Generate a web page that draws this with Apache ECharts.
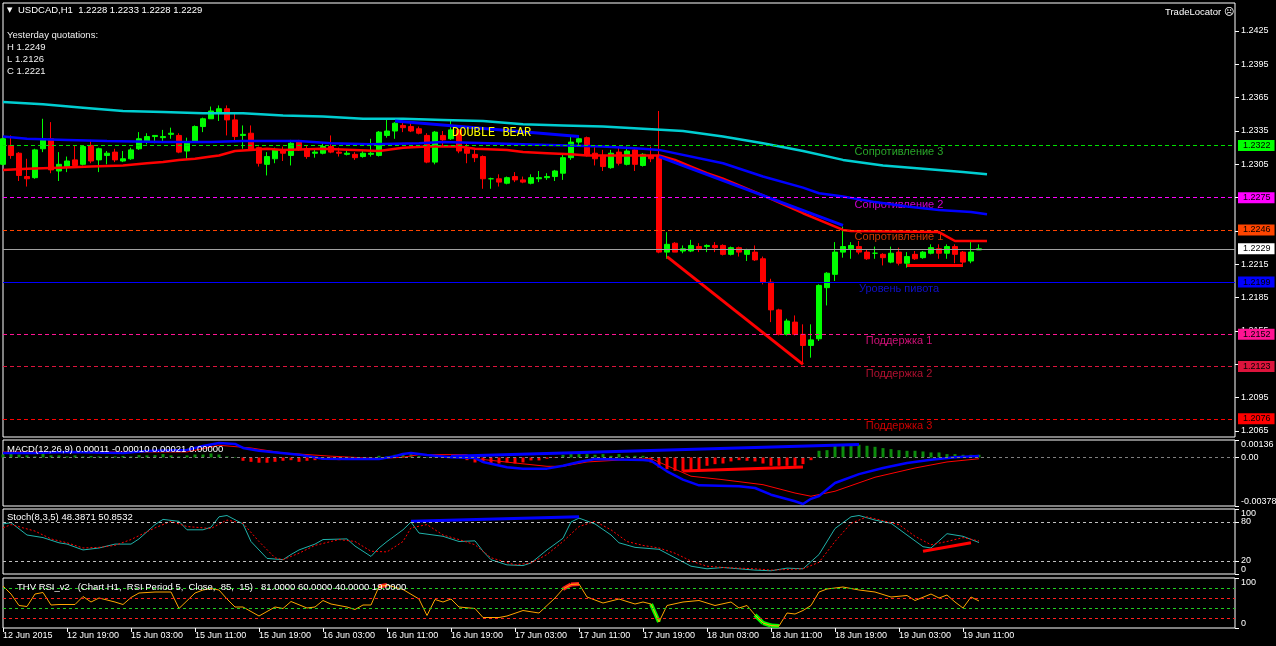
<!DOCTYPE html>
<html><head><meta charset="utf-8">
<script src="https://cdn.jsdelivr.net/npm/echarts@6/dist/echarts.min.js"></script>
<style>html,body{margin:0;padding:0;background:#000;}#c{width:1276px;height:646px;}</style>
</head><body><div id="c"></div>
<script>
const FONT = '"Liberation Sans", Arial, sans-serif';
// ---------- axis data ----------
const barCount = 155;              // 123 bars + empty space to the right
const xTickStep = 8;
const xTickLabels = ['12 Jun 2015','12 Jun 19:00','15 Jun 03:00','15 Jun 11:00','15 Jun 19:00','16 Jun 03:00','16 Jun 11:00','16 Jun 19:00','17 Jun 03:00','17 Jun 11:00','17 Jun 19:00','18 Jun 03:00','18 Jun 11:00','18 Jun 19:00','19 Jun 03:00','19 Jun 11:00'];
const priceTicks = [1.2065,1.2095,1.2125,1.2155,1.2185,1.2215,1.2245,1.2275,1.2305,1.2335,1.2365,1.2395,1.2425];
const macdTicks = [-0.00378, 0, 0.00136];
const stochEdgeTicks = [0, 100];
const stochLevelTicks = [20, 80];
const rsiTicks = [0, 100];

// ---------- candles (USDCAD H1) ----------
const opens = [1.2305,1.2322,1.2315,1.2294,1.2293,1.2319,1.2328,1.2299,1.2303,1.2309,1.2305,1.2322,1.2309,1.2313,1.2316,1.2308,1.2310,1.2319,1.2326,1.2330,1.2329,1.2332,1.2331,1.2317,1.2325,1.2339,1.2346,1.2351,1.2355,1.2345,1.2331,1.2333,1.2320,1.2305,1.2310,1.2318,1.2313,1.2325,1.2319,1.2315,1.2315,1.2321,1.2316,1.2314,1.2314,1.2312,1.2314,1.2313,1.2331,1.2335,1.2340,1.2339,1.2337,1.2331,1.2307,1.2331,1.2328,1.2336,1.2319,1.2314,1.2312,1.2292,1.2292,1.2288,1.2294,1.2291,1.2288,1.2292,1.2293,1.2294,1.2297,1.2311,1.2325,1.2329,1.2315,1.2313,1.2302,1.2316,1.2305,1.2318,1.2304,1.2313,1.2313,1.2226,1.2234,1.2227,1.2227,1.2231,1.2231,1.2232,1.2232,1.2224,1.2230,1.2224,1.2226,1.2220,1.2199,1.2174,1.2152,1.2163,1.2152,1.2142,1.2148,1.2194,1.2206,1.2226,1.2229,1.2231,1.2226,1.2225,1.2224,1.2217,1.2226,1.2216,1.2224,1.2221,1.2225,1.2229,1.2225,1.2231,1.2226,1.2218,1.2228];
const highs = [1.2329,1.2331,1.2316,1.2310,1.2319,1.2346,1.2343,1.2316,1.2312,1.2322,1.2322,1.2327,1.2320,1.2317,1.2319,1.2317,1.2320,1.2334,1.2333,1.2331,1.2336,1.2338,1.2333,1.2329,1.2340,1.2347,1.2357,1.2358,1.2358,1.2351,1.2340,1.2340,1.2321,1.2316,1.2320,1.2321,1.2327,1.2327,1.2322,1.2318,1.2325,1.2331,1.2320,1.2318,1.2316,1.2318,1.2328,1.2335,1.2345,1.2343,1.2343,1.2342,1.2339,1.2333,1.2335,1.2335,1.2344,1.2337,1.2324,1.2318,1.2313,1.2293,1.2296,1.2294,1.2298,1.2294,1.2296,1.2299,1.2297,1.2300,1.2314,1.2331,1.2331,1.2330,1.2321,1.2318,1.2318,1.2321,1.2321,1.2319,1.2315,1.2321,1.2353,1.2244,1.2235,1.2232,1.2237,1.2234,1.2233,1.2235,1.2233,1.2231,1.2231,1.2229,1.2232,1.2222,1.2202,1.2175,1.2166,1.2169,1.2161,1.2161,1.2197,1.2208,1.2235,1.2249,1.2235,1.2236,1.2228,1.2231,1.2225,1.2231,1.2230,1.2226,1.2227,1.2227,1.2233,1.2233,1.2233,1.2233,1.2227,1.2236,1.2233];
const lows = [1.2304,1.2310,1.2290,1.2285,1.2292,1.2316,1.2297,1.2290,1.2298,1.2303,1.2304,1.2306,1.2298,1.2305,1.2307,1.2307,1.2309,1.2318,1.2323,1.2324,1.2325,1.2328,1.2315,1.2310,1.2325,1.2334,1.2346,1.2344,1.2331,1.2325,1.2319,1.2317,1.2303,1.2295,1.2306,1.2308,1.2304,1.2317,1.2310,1.2311,1.2314,1.2315,1.2312,1.2313,1.2309,1.2311,1.2312,1.2312,1.2329,1.2328,1.2334,1.2334,1.2332,1.2306,1.2305,1.2321,1.2327,1.2315,1.2306,1.2307,1.2283,1.2283,1.2285,1.2287,1.2289,1.2288,1.2287,1.2289,1.2291,1.2290,1.2291,1.2309,1.2322,1.2312,1.2304,1.2299,1.2301,1.2304,1.2304,1.2299,1.2303,1.2307,1.2225,1.2220,1.2226,1.2225,1.2226,1.2226,1.2226,1.2226,1.2223,1.2223,1.2222,1.2218,1.2218,1.2197,1.2163,1.2151,1.2151,1.2151,1.2126,1.2131,1.2146,1.2178,1.2200,1.2221,1.2220,1.2224,1.2219,1.2220,1.2214,1.2216,1.2214,1.2212,1.2219,1.2220,1.2224,1.2220,1.2220,1.2216,1.2214,1.2216,1.2228];
const closes = [1.2328,1.2313,1.2295,1.2292,1.2318,1.2328,1.2300,1.2305,1.2308,1.2304,1.2321,1.2308,1.2319,1.2315,1.2309,1.2310,1.2318,1.2328,1.2330,1.2331,1.2330,1.2333,1.2316,1.2325,1.2339,1.2346,1.2353,1.2355,1.2345,1.2330,1.2332,1.2318,1.2306,1.2312,1.2318,1.2315,1.2324,1.2318,1.2312,1.2316,1.2321,1.2316,1.2315,1.2315,1.2311,1.2315,1.2315,1.2334,1.2335,1.2342,1.2338,1.2335,1.2333,1.2307,1.2334,1.2327,1.2336,1.2317,1.2315,1.2311,1.2292,1.2292,1.2289,1.2293,1.2291,1.2289,1.2293,1.2293,1.2294,1.2299,1.2311,1.2325,1.2328,1.2313,1.2310,1.2303,1.2315,1.2306,1.2317,1.2305,1.2314,1.2310,1.2226,1.2233,1.2226,1.2229,1.2232,1.2229,1.2232,1.2230,1.2224,1.2230,1.2226,1.2228,1.2219,1.2199,1.2174,1.2152,1.2164,1.2152,1.2142,1.2147,1.2196,1.2207,1.2226,1.2231,1.2232,1.2226,1.2220,1.2225,1.2221,1.2225,1.2216,1.2222,1.2220,1.2226,1.2230,1.2225,1.2231,1.2224,1.2217,1.2226,1.2229];

// ---------- moving averages / drawn lines on price chart ([bar, price]) ----------
const maCyan = [[0,1.2361],[5,1.2359],[10,1.2356],[15,1.2353],[20,1.2352],[25,1.2351],[30,1.2351],[35,1.2349],[40,1.2348],[45,1.2346],[50,1.2346],[55,1.2345],[60,1.2344],[65,1.2341],[70,1.2340],[75,1.2339],[80,1.2337],[85,1.2335],[90,1.2330],[95,1.2324],[100,1.2317],[105,1.2309],[110,1.2304],[115,1.2301],[120,1.2298],[123,1.2296]];
const maBlue = [[0,1.2330],[3,1.2328],[8,1.2327],[13,1.2326],[20,1.2325],[26,1.2325],[30,1.2326],[37,1.2326],[41,1.2324],[46,1.2323],[52,1.2324],[55,1.2325],[65,1.2323],[75,1.2321],[80,1.2319],[82,1.2318],[90,1.2306],[95,1.2294],[100,1.2284],[102,1.2279],[105,1.2276],[109,1.2271],[113,1.2267],[117,1.2264],[121,1.2262],[123,1.2260]];
const maRed = [[0,1.2300],[3,1.2301],[7,1.2302],[11,1.2303],[15,1.2304],[18,1.2306],[20,1.2307],[22,1.2309],[24,1.2310],[26,1.2312],[27,1.2313],[28,1.2315],[29,1.2317],[31,1.2318],[33,1.2319],[35,1.2318],[40,1.2319],[47,1.2317],[50,1.2320],[53,1.2321],[57,1.2321],[59,1.2319],[63,1.2318],[65,1.2316],[68,1.2315],[71,1.2314],[73,1.2313],[77,1.2313],[82,1.2313],[84,1.2309],[86,1.2303],[88,1.2297],[90,1.2292],[95,1.2277],[100,1.2261],[105,1.2246],[106,1.2245],[117,1.2244],[118,1.2240],[119,1.2236],[123,1.2236]];
const blueTrend1 = [[49,1.2344],[72,1.2330]];
const blueTrend2 = [[82,1.2312],[105,1.2250]];
const redTrend1 = [[83,1.2222],[100,1.2125]];
const redTrend2 = [[113,1.2214],[120,1.2214]];

// ---------- pivot levels ----------
const levelNames = ['Сопротивление 3','Сопротивление 2','Сопротивление 1','Уровень пивота','Поддержка 1','Поддержка 2','Поддержка 3'];
const levelValues = [1.2322,1.2275,1.2246,1.2199,1.2152,1.2123,1.2076];
const lastPrice = 1.2229;
const levelLabelBar = 112;

// ---------- MACD(12,26,9) ----------
const macdHist = [0.00023,0.00031,0.00023,0.00016,0.00008,0.00031,0.00016,0.00016,0.00008,0.00016,0.00008,0.00012,0.00008,0.00008,0.00008,0.00012,0.00008,0.00018,0.00016,0.00018,0.00026,0.00016,0.00008,0.00016,0.00023,0.00023,0.00031,0.00023,0.00008,0.00004,-0.00026,-0.00034,-0.00041,-0.00041,-0.00034,-0.00026,-0.00021,-0.00034,-0.00026,-0.00021,-0.00016,-0.00016,-0.00021,-0.00016,-0.00010,-0.00008,-0.00004,0.00013,0.00008,0.00021,0.00034,0.00026,0.00012,0.00004,0.00008,0.00006,0.00004,-0.00004,-0.00021,-0.00039,-0.00039,-0.00047,-0.00047,-0.00039,-0.00047,-0.00039,-0.00023,-0.00023,-0.00010,-0.00004,0.00021,0.00026,0.00026,0.00026,0.00021,0.00026,0.00013,0.00026,0.00013,0.00013,0.00013,-0.00039,-0.00078,-0.00091,-0.00104,-0.00109,-0.00104,-0.00091,-0.00065,-0.00052,-0.00047,-0.00031,-0.00021,-0.00026,-0.00031,-0.00047,-0.00065,-0.00065,-0.00065,-0.00065,-0.00052,-0.00021,0.00052,0.00057,0.00091,0.00091,0.00099,0.00099,0.00091,0.00083,0.00073,0.00065,0.00057,0.00052,0.00052,0.00047,0.00039,0.00039,0.00026,0.00026,0.00021,0.00021,0.00021];
const macdMain = [[0,0.00035],[4,0.00035],[8,0.00043],[15,0.00035],[18,0.00050],[23,0.00058],[25,0.00090],[27,0.00113],[29,0.00105],[30,0.00074],[32,0.00053],[37,0.00022],[40,-0.00010],[43,-0.00012],[47,-0.00012],[49,0.00010],[50,0.00027],[51,0.00035],[53,0.00020],[56,0.00002],[59,-0.00005],[60,-0.00035],[63,-0.00076],[65,-0.00087],[68,-0.00087],[70,-0.00065],[72,-0.00035],[74,-0.00012],[80,-0.00019],[81,-0.00025],[83,-0.00108],[85,-0.00173],[87,-0.00217],[92,-0.00224],[94,-0.00238],[96,-0.00290],[99,-0.00341],[100,-0.00362],[101,-0.00322],[102,-0.00300],[104,-0.00199],[107,-0.00130],[110,-0.00082],[113,-0.00043],[116,-0.00017],[119,0.00002],[122,0.00011]];
const macdSignal = [[0,0.00043],[15,0.00043],[23,0.00043],[27,0.00095],[31,0.00074],[35,0.00035],[41,0.00010],[47,-0.00009],[50,0.00002],[52,0.00022],[58,0.00022],[59,-0.00009],[64,-0.00043],[68,-0.00069],[70,-0.00069],[73,-0.00035],[78,-0.00017],[81,-0.00009],[86,-0.00146],[90,-0.00173],[95,-0.00212],[99,-0.00277],[101,-0.00302],[104,-0.00263],[109,-0.00154],[114,-0.00082],[118,-0.00035],[122,-0.00010]];
const macdBlueTrend = [[56,0.00009],[107,0.00100]];
const macdRedTrend = [[85,-0.00105],[100,-0.00074]];

// ---------- Stoch(8,3,5) ----------
const stochMain = [[0,77],[1,79],[3,60],[5,56],[7,48],[8,46],[10,37],[12,40],[14,46],[16,46],[17,54],[19,76],[20,84],[22,81],[23,68],[25,68],[26,72],[27,88],[28,90],[30,77],[31,50],[33,24],[35,22],[36,30],[37,37],[39,46],[40,53],[43,54],[44,43],[46,27],[47,40],[48,50],[50,68],[51,80],[52,63],[55,58],[57,50],[59,51],[60,35],[61,22],[63,14],[65,13],[66,17],[68,37],[70,55],[71,80],[72,86],[74,77],[76,60],[77,48],[79,41],[80,40],[82,38],[84,25],[86,12],[88,8],[90,10],[92,8],[94,6],[96,5],[98,9],[100,8],[102,30],[104,70],[106,88],[107,90],[109,83],[111,78],[113,60],[115,42],[116,40],[118,62],[120,58],[122,48.39]];
const stochSignal = [[0,71],[1,76],[4,66],[6,54],[8,48],[10,40],[12,41],[14,44],[16,53],[19,71],[21,81],[23,73],[26,70],[28,83],[30,78],[32,50],[34,25],[35,22],[37,32],[39,44],[42,53],[44,50],[46,35],[48,34],[50,50],[51,71],[53,76],[55,60],[57,53],[59,45],[61,25],[64,14],[66,17],[68,30],[70,50],[72,73],[74,81],[76,68],[78,50],[80,44],[82,40],[84,32],[86,20],[88,12],[90,10],[92,9],[94,8],[96,6],[98,7],[100,8],[102,18],[104,50],[106,78],[108,88],[110,82],[112,76],[114,58],[116,45],[118,50],[120,56],[122,50.85]];
const stochLevels = [80, 20];
const stochBlueTrend = [[51,81],[72,88]];
const stochRedTrend = [[115,35],[121,48]];

// ---------- THV RSI (period 5) ----------
const rsi = [[0,84],[1,68],[2,45],[3,43],[4,68],[5,71],[6,46],[7,47],[9,47],[10,63],[11,52],[12,60],[14,52],[15,47],[16,61],[17,70],[19,72],[21,72],[22,39],[24,70],[25,76],[26,79],[27,76],[28,58],[29,42],[30,42],[32,24],[34,42],[35,39],[36,53],[38,40],[39,42],[40,55],[41,48],[43,42],[44,37],[45,46],[46,46],[47,83],[48,86],[50,77],[52,58],[53,25],[54,57],[55,52],[56,58],[57,42],[59,39],[60,21],[62,21],[63,24],[65,35],[67,30],[68,45],[69,60],[70,78],[71,87],[72,88],[73,62],[75,50],[77,58],[79,48],[80,52],[81,48],[82,12],[83,45],[85,52],[87,55],[89,45],[91,52],[92,40],[93,45],[94,26],[95,10],[96,5],[97,4],[98,30],[99,28],[100,35],[101,45],[102,72],[103,78],[105,82],[107,76],[109,72],[111,62],[113,65],[114,55],[116,68],[117,60],[118,66],[119,52],[120,40],[121,62],[122,54]];
const rsiLevels = [80, 60, 40, 20];
const rsiUpper = 85, rsiLower = 15;

// ---------- styles ----------
const levelLineColors = ['#00e000','#ff00ff','#ff4500','#0000ff','#ff1493','#dc143c','#ff0000'];
const levelTextColors = ['#32cd32','#ff00ff','#ff4500','#1414ff','#ff1493','#dc143c','#ff0000'];
const levelBoxColors = ['#00ff00','#ff00ff','#ff4500','#0000ff','#ff1493','#dc143c','#ff0000'];
const levelSolid = [false,false,false,true,false,false,false];
const rsiLevelColors = ['#22cc22','#ff2020','#22cc22','#ff2020'];

const cats = Array.from({length: barCount}, (_, k) => String(k));
const chart = echarts.init(document.getElementById('c'), null, {renderer: 'canvas'});

const gridBase = {show: true, borderColor: '#ffffff', borderWidth: 1, backgroundColor: '#000', containLabel: false, outerBoundsMode: 'none'};
const grids = [
  Object.assign({left: 3, top: 3, width: 1232, height: 434}, gridBase),
  Object.assign({left: 3, top: 440, width: 1232, height: 66}, gridBase),
  Object.assign({left: 3, top: 509, width: 1232, height: 65}, gridBase),
  Object.assign({left: 3, top: 578, width: 1232, height: 50}, gridBase)
];
const tickShown = (idx) => idx % xTickStep === 0 && idx / xTickStep < xTickLabels.length;
const xAxes = grids.map((g, k) => ({
  type: 'category', gridIndex: k, data: cats, boundaryGap: false,
  axisLine: {show: false}, splitLine: {show: false},
  axisTick: k === 3 ? {show: true, interval: tickShown, length: 4, lineStyle: {color: '#fff'}} : {show: false},
  axisLabel: k === 3 ? {show: true, interval: tickShown, formatter: (v, idx) => xTickLabels[Math.round(idx / xTickStep)] || '',
    align: 'left', color: '#fff', fontSize: 9, fontFamily: FONT, margin: 3} : {show: false}
}));
const yBase = (k, min, max, ticks, fmt, edgeAlign) => ({
  type: 'value', gridIndex: k, position: 'right', min: min, max: max, scale: true,
  splitLine: {show: false}, axisLine: {show: false},
  axisTick: {show: true, customValues: ticks, length: 4, lineStyle: {color: '#fff'}},
  axisLabel: {show: true, customValues: ticks, formatter: fmt, color: '#fff', fontSize: 9, fontFamily: FONT, margin: 6,
    showMinLabel: true, showMaxLabel: true, hideOverlap: false,
    verticalAlignMaxLabel: edgeAlign ? 'top' : 'middle', verticalAlignMinLabel: edgeAlign ? 'bottom' : 'middle'}
});
const yAxes = [
  yBase(0, 1.20596, 1.24502, priceTicks, v => v.toFixed(4), false),
  yBase(1, -0.00378, 0.00136, macdTicks, v => Math.abs(v) < 1e-9 ? '0.00' : v.toFixed(5), true),
  yBase(2, 0, 100, stochEdgeTicks, v => String(v), true),
  yBase(3, 0, 100, rsiTicks, v => String(v), true),
  yBase(2, 0, 100, stochLevelTicks, v => String(v), false)
];

const lineS = (xi, data, color, width, extra) => Object.assign({
  type: 'line', xAxisIndex: xi, yAxisIndex: xi, data: data, showSymbol: false, symbol: 'none',
  lineStyle: {color: color, width: width}, z: 4, silent: true, animation: false
}, extra || {});

const series = [];
// level labels + level lines with price boxes
series.push({
  type: 'scatter', xAxisIndex: 0, yAxisIndex: 0, z: 1, symbolSize: 1, silent: true,
  itemStyle: {color: 'rgba(0,0,0,0)'},
  data: levelValues.map((v, k) => ({value: [levelLabelBar, v], label: {color: levelTextColors[k]}})),
  label: {show: true, position: 'inside', offset: [0, 7], formatter: p => levelNames[p.dataIndex], fontSize: 11, fontFamily: FONT},
  markLine: {
    symbol: ['none', 'none'], silent: true, animation: false, precision: 4,
    data: levelValues.map((v, k) => ({
      yAxis: v,
      lineStyle: {color: levelLineColors[k], type: levelSolid[k] ? 'solid' : [4, 3], width: 1},
      label: {backgroundColor: levelBoxColors[k]}
    })).concat([{yAxis: lastPrice, lineStyle: {color: '#a0a0a0', type: 'solid', width: 1}, label: {backgroundColor: '#ffffff'}}]),
    label: {show: true, position: 'end', distance: 3, formatter: p => Number(p.value).toFixed(4), color: '#000',
      fontSize: 9, fontFamily: FONT, padding: [1, 4, 0, 5], lineHeight: 10}
  }
});
series.push({
  type: 'candlestick', xAxisIndex: 0, yAxisIndex: 0, z: 2, barWidth: 5, silent: true,
  data: opens.map((o, k) => [o, closes[k], lows[k], highs[k]]),
  itemStyle: {color: '#00ff00', color0: '#ff0000', borderColor: '#00ff00', borderColor0: '#ff0000', borderColorDoji: '#00ff00', borderWidth: 1}
});
series.push(lineS(0, maCyan, '#00ced1', 2.5));
series.push(lineS(0, maBlue, '#0000ff', 2.5));
series.push(lineS(0, maRed, '#ff0000', 2.5));
series.push(lineS(0, blueTrend1, '#0000ff', 3));
series.push(lineS(0, blueTrend2, '#0000ff', 3));
series.push(lineS(0, redTrend1, '#ff0000', 3));
series.push(lineS(0, redTrend2, '#ff0000', 3));

// MACD
series.push({
  type: 'bar', xAxisIndex: 1, yAxisIndex: 1, barWidth: 3, silent: true, z: 2,
  data: macdHist.map(v => ({value: v, itemStyle: {color: v >= 0 ? '#0c8c0c' : '#ff0000'}})),
  markLine: {symbol: ['none', 'none'], silent: true, label: {show: false}, precision: 6,
    data: [{yAxis: 0}], lineStyle: {color: '#808080', type: [3, 3], width: 1}}
});
series.push(lineS(1, macdSignal, '#ff0000', 1));
series.push(lineS(1, macdMain, '#0000ff', 2.5));
series.push(lineS(1, macdBlueTrend, '#0000ff', 3));
series.push(lineS(1, macdRedTrend, '#ff0000', 3));

// Stoch
series.push(lineS(2, stochMain, '#20b2aa', 1, {
  markLine: {symbol: ['none', 'none'], silent: true, label: {show: false},
    data: stochLevels.map(v => ({yAxis: v})), lineStyle: {color: '#c0c0c0', type: [3, 3], width: 1}}
}));
series.push(lineS(2, stochSignal, '#ff0000', 1, {lineStyle: {color: '#ff0000', width: 1, type: [2, 2]}}));
series.push(lineS(2, stochBlueTrend, '#0000ff', 3));
series.push(lineS(2, stochRedTrend, '#ff0000', 3));

// RSI
for (let k = 1; k < rsi.length; k++) {
  const v = rsi[k][1];
  if (v > rsiUpper || v < rsiLower) {
    series.push(lineS(3, [rsi[k - 1], rsi[k]], v > rsiUpper ? '#ff2020' : '#00ff00', 4, {z: 3}));
  }
}
series.push(lineS(3, rsi, '#ffa500', 1, {
  markLine: {symbol: ['none', 'none'], silent: true, label: {show: false},
    data: rsiLevels.map((v, k) => ({yAxis: v, lineStyle: {color: rsiLevelColors[k], type: [3, 3], width: 1}}))}
}));

const txt = (x, y, text, fill, font, extra) => Object.assign({
  type: 'text', x: x, y: y, z: 50, silent: true,
  style: {text: text, fill: fill, font: font, verticalAlign: 'middle', align: 'left'}
}, extra || {});
const F = '9.5px ' + FONT;
const graphic = [
  txt(7, 10, '▼', '#fff', '7px "DejaVu Sans"'),
  txt(18, 10, 'USDCAD,H1  1.2228 1.2233 1.2228 1.2229', '#fff', F),
  txt(7, 35, 'Yesterday quotations:', '#f0f0f0', F),
  txt(7, 47.5, 'H 1.2249', '#f0f0f0', F),
  txt(7, 59.5, 'L 1.2126', '#f0f0f0', F),
  txt(7, 71.5, 'C 1.2221', '#f0f0f0', F),
  txt(1165, 12, 'TradeLocator ☹', '#fff', F),
  txt(452, 133, 'DOUBLE BEAR', '#ffff00', '12px "Liberation Mono", monospace'),
  txt(7, 449, 'MACD(12,26,9) 0.00011 -0.00010 0.00021 0.00000', '#fff', F),
  txt(7, 517, 'Stoch(8,3,5) 48.3871 50.8532', '#fff', F),
  txt(17, 587, 'THV RSI_v2   (Chart H1,  RSI Period 5,  Close,  85,  15)   81.0000 60.0000 40.0000 19.0000', '#fff', F)
];

chart.setOption({
  backgroundColor: '#000',
  animation: false,
  textStyle: {fontFamily: FONT},
  grid: grids, xAxis: xAxes, yAxis: yAxes,
  series: series,
  graphic: {elements: graphic}
});
</script></body></html>
